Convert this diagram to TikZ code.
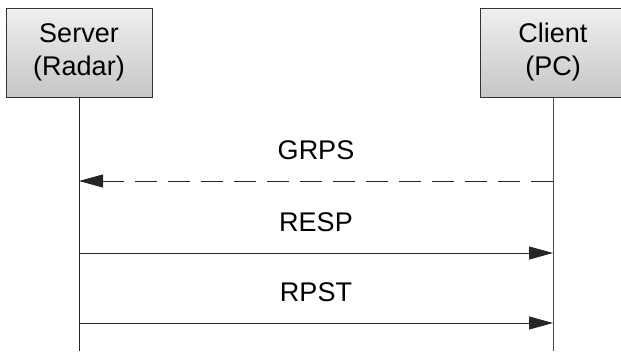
\documentclass[tikz,border=0pt]{standalone}
\usepackage{fontspec}
\setmainfont{Liberation Sans}
\usetikzlibrary{arrows.meta, positioning}

\begin{document}
\begin{tikzpicture}[x=1pt, y=-1pt]
	\tikzstyle{actor}=[draw=black!80, line width=1pt, top color=gray!12, bottom color=gray!45, minimum width=146pt, minimum height=89pt, align=center, font=\fontsize{27}{33}\selectfont]
	\tikzstyle{msg}=[-{Triangle[length=24pt, width=13pt]}, line width=0.9pt, draw=black!85]
	\tikzstyle{lbl}=[font=\fontsize{27}{32}\selectfont, anchor=base, yshift=22pt]

	\useasboundingbox (0,0) rectangle (621,351);
	\clip (0,0) rectangle (621,351);

	% Actors
	\node at (79, 52.5) [actor] (server) {Server\\(Radar)};
	\node at (553, 52.5) [actor] (client) {Client\\(PC)};

	% Lifelines
	\coordinate (server_end) at (79, 351);
	\coordinate (client_end) at (553, 351);
	\draw [line width=1pt, black!85] (server) -- (server_end);
	\draw [line width=1pt, black!70] (client) -- (client_end);

	% Messages
	\foreach \y [count=\i] in {181, 253, 323} {
		\coordinate (s_\i) at (79, \y);
		\coordinate (c_\i) at (553, \y);
	}
	\draw [msg, dash pattern=on 22pt off 11pt] (c_1) -- node [lbl] (grps) {GRPS} (s_1);
	\draw [msg] (s_2) -- node [lbl] (resp) {RESP} (c_2);
	\draw [msg] (s_3) -- node [lbl] (rpst) {RPST} (c_3);
\end{tikzpicture}
\end{document}
